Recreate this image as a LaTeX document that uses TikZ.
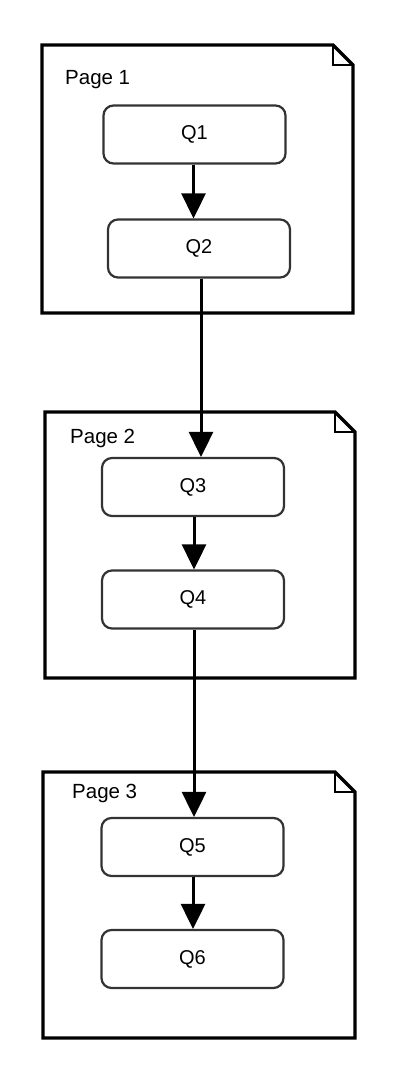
\documentclass[tikz,border=0pt]{standalone}
\usepackage{fontspec}
\setmainfont{Liberation Sans}
\usetikzlibrary{arrows.meta,calc}
\tikzset{
  qbox/.style={draw=black!80, line width=2.2pt, rounded corners=10pt, minimum width=182pt, minimum height=58pt, inner sep=0pt, font=\fontsize{20}{22}\selectfont},
  pagelabel/.style={anchor=base west, inner sep=0pt, font=\fontsize{20.5}{22}\selectfont},
  pageline/.style={line width=3.2pt, line join=miter},
  foldline/.style={line width=1.6pt, line join=miter},
  arr/.style={line width=3pt, -{Triangle[width=24pt,length=25pt]}}
}
\newcommand{\pageshape}[5]{% name, left, top, right, bottom
  \coordinate (#1nw) at (#2,#3);
  \coordinate (#1se) at (#4,#5);
  \draw[pageline] (#1nw) -- ($(#4,#3)+(-20,0)$) -- ($(#4,#3)+(0,20)$) -- (#1se) -- (#2,#5) -- cycle;
  \draw[foldline] ($(#4,#3)+(-20,0)$) -- ($(#4,#3)+(-20,20)$) -- ($(#4,#3)+(0,20)$);
}
\begin{document}
\begin{tikzpicture}[x=1pt,y=-1pt]
\useasboundingbox (0,0) rectangle (408,1076);
\pageshape{p1}{42}{45}{353}{313}
\pageshape{p2}{45}{412}{355}{678}
\pageshape{p3}{43}{772}{355}{1038}
\node[pagelabel] (l1) at (65,84) {Page 1};
\node[pagelabel] (l2) at (70,443) {Page 2};
\node[pagelabel] (l3) at (72,798) {Page 3};
\node[qbox] (Q1) at (194.5,134.5) {Q1};
\node[qbox] (Q2) at (199,248.5) {Q2};
\node[qbox] (Q3) at (193,487) {Q3};
\node[qbox] (Q4) at (193,599.5) {Q4};
\node[qbox] (Q5) at (192.5,847) {Q5};
\node[qbox] (Q6) at (192.5,959) {Q6};
\draw[arr] ([xshift=-1pt]Q1.south) -- ([xshift=-1pt]Q1.south |- Q2.north);
\draw[arr] ([xshift=2pt]Q2.south) -- ([xshift=2pt]Q2.south |- Q3.north);
\draw[arr] ([xshift=1pt]Q3.south) -- ([xshift=1pt]Q3.south |- Q4.north);
\draw[arr] ([xshift=1pt]Q4.south) -- ([xshift=1pt]Q4.south |- Q5.north);
\draw[arr] ([xshift=0.5pt]Q5.south) -- ([xshift=0.5pt]Q5.south |- Q6.north);
\end{tikzpicture}
\end{document}
